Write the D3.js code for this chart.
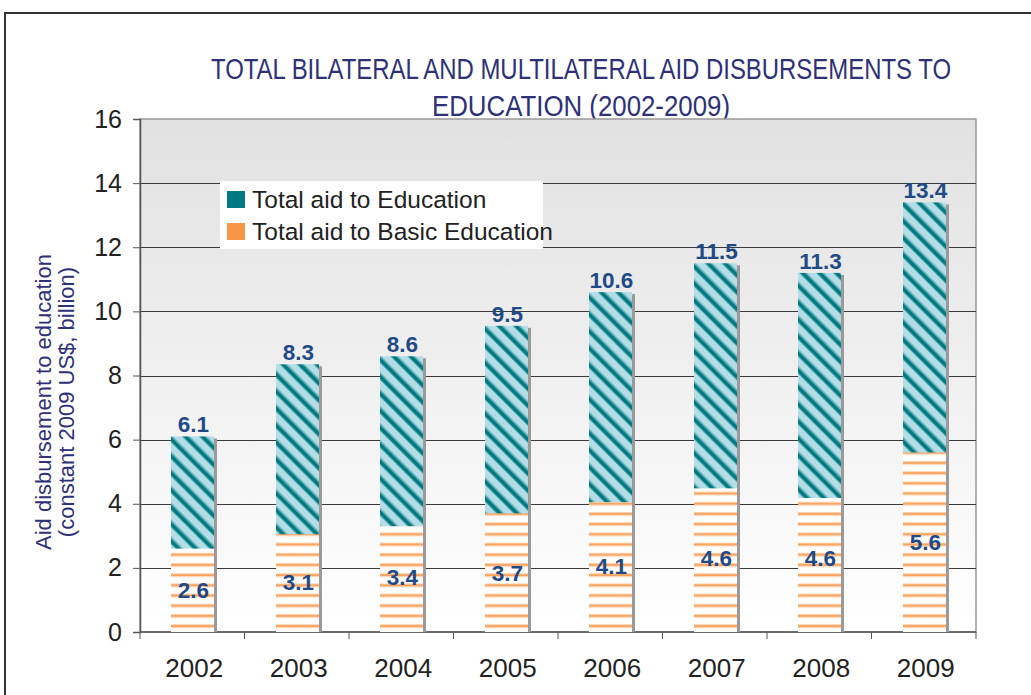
<!DOCTYPE html>
<html>
<head>
<meta charset="utf-8">
<script src="https://cdn.jsdelivr.net/npm/d3@7"></script>
<style>
  body { margin: 0; background: #fff; }
  svg { display: block; }
</style>
</head>
<body>
<svg id="chart" width="1031" height="695"></svg>
<script>
// values
var years = ["2002", "2003", "2004", "2005", "2006", "2007", "2008", "2009"];
var totalAid = [6.1, 8.35, 8.6, 9.55, 10.6, 11.5, 11.2, 13.4];     // bar heights as drawn
var totalLabels = ["6.1", "8.3", "8.6", "9.5", "10.6", "11.5", "11.3", "13.4"];
var basicAid = [2.6, 3.05, 3.3, 3.7, 4.05, 4.48, 4.18, 5.6];        // bar heights as drawn
var basicLabels = ["2.6", "3.1", "3.4", "3.7", "4.1", "4.6", "4.6", "5.6"];
var yTicks = [0, 2, 4, 6, 8, 10, 12, 14, 16];
var seriesNames = ["Total aid to Education", "Total aid to Basic Education"];
var titleLines = ["TOTAL BILATERAL AND MULTILATERAL AID DISBURSEMENTS TO", "EDUCATION (2002-2009)"];
var axisTitle = ["Aid disbursement to education", "(constant 2009 US$, billion)"];

var svg = d3.select("#chart");
var plotLeft = 140, plotRight = 976, plotTop = 119, plotBottom = 632;

var x = d3.scaleBand().domain(years).range([plotLeft, plotRight]);
var y = d3.scaleLinear().domain([0, 16]).range([plotBottom, plotTop]);
var barW = 43;

var defs = svg.append("defs");

// plot background gradient
var grad = defs.append("linearGradient").attr("id", "bg")
    .attr("x1", 0).attr("y1", 0).attr("x2", 0).attr("y2", 1);
grad.append("stop").attr("offset", "0%").attr("stop-color", "#e1e1e1");
grad.append("stop").attr("offset", "100%").attr("stop-color", "#ffffff");

// teal diagonal stripes
var per = 12;
var diag = defs.append("pattern").attr("id", "diag")
    .attr("patternUnits", "userSpaceOnUse")
    .attr("width", per).attr("height", per)
    .attr("patternTransform", "rotate(-45)");
diag.append("rect").attr("width", per).attr("height", per).attr("fill", "#b3dde7");
diag.append("rect").attr("x", 0).attr("width", 1).attr("height", per).attr("fill", "#4aa3a8");
diag.append("rect").attr("x", 1).attr("width", 3.5).attr("height", per).attr("fill", "#007a80");
diag.append("rect").attr("x", 4.5).attr("width", 1).attr("height", per).attr("fill", "#4aa3a8");

// orange horizontal lines
var hor = defs.append("pattern").attr("id", "hor")
    .attr("patternUnits", "userSpaceOnUse")
    .attr("width", 10).attr("height", 10.2)
    .attr("y", 2);
hor.append("rect").attr("width", 10).attr("height", 10.2).attr("fill", "#ffffff");
hor.append("rect").attr("y", 0).attr("width", 10).attr("height", 1).attr("fill", "#fcd2ae");
hor.append("rect").attr("y", 1).attr("width", 10).attr("height", 2).attr("fill", "#f9a35e");
hor.append("rect").attr("y", 3).attr("width", 10).attr("height", 1).attr("fill", "#fcd2ae");

// outer frame
svg.append("path")
    .attr("d", "M5,695 L5,13 L1031,13")
    .attr("fill", "none").attr("stroke", "#333").attr("stroke-width", 2);

// title
svg.selectAll(".title").data(titleLines).enter().append("text")
    .attr("class", "title")
    .attr("x", 581)
    .attr("y", function(d, i) { return 79 + i * 37; })
    .attr("text-anchor", "middle")
    .attr("textLength", function(d, i) { return i == 0 ? 740 : 298; })
    .attr("lengthAdjust", "spacingAndGlyphs")
    .style("font-family", "'Liberation Sans Narrow', 'Liberation Sans', sans-serif")
    .style("font-size", "29px")
    .style("fill", "#2e3178")
    .text(function(d) { return d; });

// plot area
svg.append("rect")
    .attr("x", plotLeft).attr("y", plotTop)
    .attr("width", plotRight - plotLeft).attr("height", plotBottom - plotTop)
    .attr("fill", "url(#bg)")
    .attr("stroke", "#999").attr("stroke-width", 1.5);

// gridlines
svg.selectAll(".grid").data(yTicks.filter(function(d) { return d > 0 && d < 16; }))
    .enter().append("line")
    .attr("x1", plotLeft).attr("x2", plotRight)
    .attr("y1", function(d) { return Math.round(y(d)) + 0.5; })
    .attr("y2", function(d) { return Math.round(y(d)) + 0.5; })
    .attr("stroke", "#3a3a3a").attr("stroke-width", 1);

// y axis
var yAxis = d3.axisLeft(y).tickValues(yTicks).tickSize(7).tickPadding(11);
var gy = svg.append("g").attr("transform", "translate(" + plotLeft + ",0)").call(yAxis);
gy.select(".domain").attr("stroke", "#555").attr("stroke-width", 1.5);
gy.selectAll(".tick line").attr("stroke", "#555");
gy.selectAll(".tick text")
    .style("font-family", "'Liberation Sans', sans-serif")
    .style("font-size", "25px")
    .style("fill", "#222");

// x axis: ticks at category boundaries
var gx = svg.append("g").attr("transform", "translate(0," + plotBottom + ")");
gx.append("line").attr("x1", plotLeft).attr("x2", plotRight)
    .attr("stroke", "#555").attr("stroke-width", 1.5);
gx.selectAll(".xt").data(years.concat(["end"])).enter().append("line")
    .attr("x1", function(d, i) { return plotLeft + i * x.bandwidth(); })
    .attr("x2", function(d, i) { return plotLeft + i * x.bandwidth(); })
    .attr("y1", 0).attr("y2", 7)
    .attr("stroke", "#555");
gx.selectAll(".xl").data(years).enter().append("text")
    .attr("x", function(d) { return x(d) + x.bandwidth() / 2 + 2; })
    .attr("y", 45)
    .attr("text-anchor", "middle")
    .style("font-family", "'Liberation Sans', sans-serif")
    .style("font-size", "26px")
    .style("fill", "#222")
    .text(function(d) { return d; });

// y axis title
svg.selectAll(".ytitle").data(axisTitle).enter().append("text")
    .attr("class", "ytitle")
    .attr("transform", function(d, i) { return "translate(" + (51 + i * 23) + ",402) rotate(-90)"; })
    .attr("text-anchor", "middle")
    .style("font-family", "'Liberation Sans Narrow', 'Liberation Sans', sans-serif")
    .style("font-size", "22px")
    .style("fill", "#2e3178")
    .text(function(d) { return d; });

function barX(d, i) { return Math.round(x(years[i]) + x.bandwidth() / 2 - barW / 2 + 0.5); }

// bar shadows
svg.selectAll(".shadow").data(totalAid).enter().append("rect")
    .attr("x", function(d, i) { return barX(d, i) + barW; })
    .attr("y", function(d) { return y(d) + 2; })
    .attr("width", 3)
    .attr("height", function(d) { return plotBottom - y(d) - 2; })
    .attr("fill", "#9a9a9a");

// total bars
svg.selectAll(".total").data(totalAid).enter().append("rect")
    .attr("x", barX)
    .attr("y", function(d) { return y(d); })
    .attr("width", barW)
    .attr("height", function(d) { return plotBottom - y(d); })
    .attr("fill", "url(#diag)");

// basic bars
svg.selectAll(".basic").data(basicAid).enter().append("rect")
    .attr("x", barX)
    .attr("y", function(d) { return y(d); })
    .attr("width", barW)
    .attr("height", function(d) { return plotBottom - y(d); })
    .attr("fill", "url(#hor)");

var labelStyle = function(sel) {
    sel.attr("text-anchor", "middle")
        .style("font-family", "'Liberation Sans', Arial, sans-serif")
        .style("font-weight", "bold")
        .style("font-size", "22.5px")
        .style("fill", "#1f4a86");
};

svg.selectAll(".tlab").data(totalLabels).enter().append("text")
    .attr("x", function(d, i) { return barX(d, i) + barW / 2 + 1; })
    .attr("y", function(d, i) { return y(totalAid[i]) - 4; })
    .call(labelStyle)
    .text(function(d) { return d; });

svg.selectAll(".blab").data(basicLabels).enter().append("text")
    .attr("x", function(d, i) { return barX(d, i) + barW / 2 + 1; })
    .attr("y", function(d) { return y(+d / 2) + 8; })
    .call(labelStyle)
    .text(function(d) { return d; });

// legend
var lg = svg.append("g");
lg.append("rect").attr("x", 220).attr("y", 181).attr("width", 323).attr("height", 68).attr("fill", "#fff");
var colors = ["#007a80", "#f79646"];
lg.selectAll(".sw").data(seriesNames).enter().append("rect")
    .attr("x", 227).attr("y", function(d, i) { return 191 + i * 32; })
    .attr("width", 18).attr("height", 17)
    .attr("fill", function(d, i) { return colors[i]; });
lg.selectAll(".lt").data(seriesNames).enter().append("text")
    .attr("x", 252).attr("y", function(d, i) { return 207.5 + i * 32; })
    .style("font-family", "'Liberation Sans', Arial, sans-serif")
    .style("font-size", "24.5px")
    .style("fill", "#222")
    .text(function(d) { return d; });
</script>
</body>
</html>
